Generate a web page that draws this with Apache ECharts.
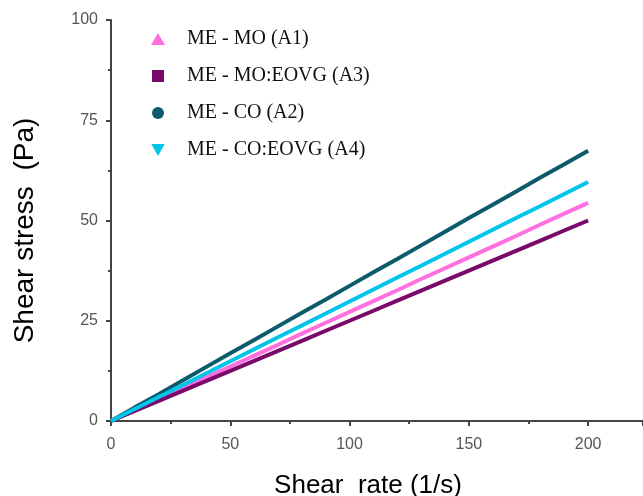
<!DOCTYPE html>
<html>
<head>
<meta charset="utf-8">
<script src="https://cdn.jsdelivr.net/npm/echarts@6/dist/echarts.min.js"></script>
<style>html,body{margin:0;padding:0;background:#fff;}#c{width:643px;height:496px;}</style>
</head>
<body>
<div id="c"></div>
<script>
var shearRate = [0,10,20,30,40,50,60,70,80,90,100,110,120,130,140,150,160,170,180,190,200];
var a1 = [0,2.7,5.4,8.2,10.9,13.6,16.3,19.0,21.8,24.5,27.2,29.9,32.6,35.4,38.1,40.8,43.5,46.2,49.0,51.7,54.4];
var a3 = [0,2.5,5.0,7.5,10.0,12.5,15.0,17.5,20.0,22.5,25.0,27.5,30.0,32.5,35.0,37.5,40.0,42.5,45.0,47.5,50.0];
var a2 = [0,3.4,6.7,10.1,13.5,16.9,20.2,23.6,27.0,30.3,33.7,37.1,40.4,43.8,47.2,50.6,53.9,57.3,60.7,64.0,67.4];
var a4 = [0,3.0,6.0,8.9,11.9,14.9,17.9,20.9,23.8,26.8,29.8,32.8,35.8,38.7,41.7,44.7,47.7,50.7,53.6,56.6,59.6];
var names = ['ME - MO (A1)','ME - MO:EOVG (A3)','ME - CO (A2)','ME - CO:EOVG (A4)'];
var colors = ['#ff6fe0','#7a0a6a','#0b5b6b','#00c4e8'];
var icons = ['triangle','path://M0,0h10v10h-10z','circle','path://M0,0 L10,0 L5,9 Z'];
var yTicks = [0,25,50,75,100];
var xTicks = [0,50,100,150,200];

function pairs(ys){ return shearRate.map(function(x,i){ return [x, ys[i]]; }); }
var seriesData = [a1,a3,a2,a4];

var chart = echarts.init(document.getElementById('c'));
chart.setOption({
  animation: false,
  backgroundColor: '#fff',
  grid: {left: 111, right: 0, top: 20, bottom: 75, containLabel: false, outerBoundsMode: 'none'},
  legend: {
    orient: 'vertical', left: 146, top: 24, itemGap: 17, itemWidth: 14, itemHeight: 12,
    symbolKeepAspect: true,
    data: names.map(function(n,i){ return {name: n, icon: icons[i], itemStyle:{color: colors[i]}}; }),
    textStyle: {fontFamily: 'Liberation Serif', fontSize: 20, color: '#111', padding: [0,0,0,17]}
  },
  xAxis: {
    type: 'value', min: 0, max: 223, interval: 50,
    name: 'Shear  rate (1/s)', nameLocation: 'middle', nameGap: 52,
    nameTextStyle: {fontFamily: 'Liberation Sans', fontSize: 26, color: '#000', padding: [0,18,0,0]},
    axisLine: {lineStyle: {color: '#444', width: 2}},
    axisTick: {show: true, length: 5, lineStyle: {color: '#444', width: 2}},
    minorTick: {show: true, splitNumber: 2, length: 3, lineStyle: {color: '#444', width: 2}},
    splitLine: {show: false},
    axisLabel: {fontFamily: 'Liberation Sans', fontSize: 16, color: '#555', margin: 16, showMaxLabel: false,
      formatter: function(v){ return xTicks.indexOf(v) >= 0 ? String(v) : ''; }}
  },
  yAxis: {
    type: 'value', min: 0, max: 100, interval: 25,
    name: 'Shear stress  (Pa)', nameLocation: 'middle', nameGap: 72,
    nameTextStyle: {fontFamily: 'Liberation Sans', fontSize: 28, color: '#000', padding: [0,20,0,0]},
    axisLine: {show: true, lineStyle: {color: '#444', width: 2}},
    axisTick: {show: true, length: 5, lineStyle: {color: '#444', width: 2}},
    minorTick: {show: true, splitNumber: 2, length: 3, lineStyle: {color: '#444', width: 2}},
    splitLine: {show: false},
    axisLabel: {fontFamily: 'Liberation Sans', fontSize: 16, color: '#555', margin: 13,
      formatter: function(v){ return yTicks.indexOf(v) >= 0 ? String(v) : ''; }}
  },
  series: seriesData.map(function(d,i){
    return {
      name: names[i], type: 'line', data: pairs(d), showSymbol: false, symbol: icons[i],
      lineStyle: {color: colors[i], width: 4}, itemStyle: {color: colors[i]}, z: 2 + i
    };
  })
});
</script>
</body>
</html>
